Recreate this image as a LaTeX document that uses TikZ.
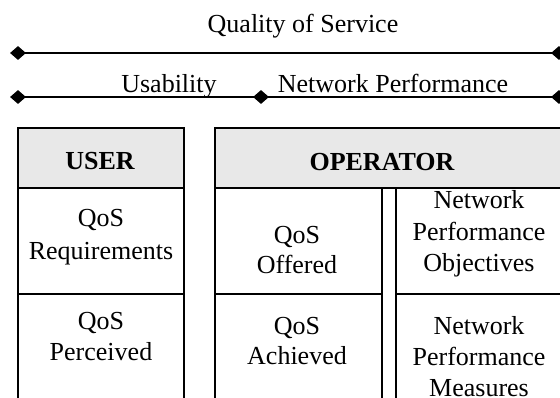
\documentclass[tikz,border=0pt]{standalone}
\usepackage{fontspec}
\setmainfont{Liberation Serif}
\usetikzlibrary{shapes.geometric}
\definecolor{hdr}{HTML}{E8E8E8}
\begin{document}
\begin{tikzpicture}[x=1pt,y=-1pt,
  txt/.style={font=\fontsize{26}{30}\selectfont, inner sep=0pt, anchor=base},
  boldtxt/.style={txt, font=\fontsize{26}{30}\selectfont\bfseries},
  dia/.style={diamond, fill=black, draw=none, minimum width=16pt, minimum height=14pt, inner sep=0pt},
  conn/.style={line width=1.5pt},
  frame/.style={line width=1.8pt}]
\useasboundingbox (0,0) rectangle (560,397);
\clip (0,0) rectangle (560,397);

% header strip
\node[txt] (title) at (303,32) {Quality of Service};
\node[dia] (d1a) at (18,53) {};
\node[dia] (d1b) at (559,53) {};
\draw[conn] (d1a.center) -- (d1b.center);

\node[txt] (usab) at (169,92) {Usability};
\node[txt] (netp) at (393,92) {Network Performance};
\node[dia] (d2a) at (18,97) {};
\node[dia] (d2b) at (261,97) {};
\node[dia] (d2c) at (559,97) {};
\draw[conn] (d2a.center) -- (d2b.center) -- (d2c.center);

% USER box
\fill[hdr] (18,128) rectangle (184,188);
\draw[frame] (18,128) rectangle (184,430);
\draw[frame] (18,188) -- (184,188);
\draw[frame] (18,294) -- (184,294);

% OPERATOR box
\fill[hdr] (215,128) rectangle (590,188);
\draw[frame] (215,128) rectangle (590,430);
\draw[frame] (215,188) -- (590,188);
\draw[frame] (382,188) -- (382,430);
\draw[frame] (396,188) -- (396,430);
\draw[frame] (215,294) -- (382,294);
\draw[frame] (396,294) -- (590,294);

% texts
\node[boldtxt] (user) at (100,169) {USER};
\node[boldtxt] (oper) at (382,170) {OPERATOR};

\node[txt] (u1a) at (101,226) {QoS};
\node[txt] (u1b) at (101,259) {Requirements};
\node[txt] (u2a) at (101,329) {QoS};
\node[txt] (u2b) at (101,360) {Perceived};

\node[txt] (o1a) at (297,243) {QoS};
\node[txt] (o1b) at (297,273) {Offered};
\node[txt] (o2a) at (297,334) {QoS};
\node[txt] (o2b) at (297,364) {Achieved};

\node[txt] (n1a) at (479,208) {Network};
\node[txt] (n1b) at (479,240) {Performance};
\node[txt] (n1c) at (479,271) {Objectives};
\node[txt] (n2a) at (479,334) {Network};
\node[txt] (n2b) at (479,365) {Performance};
\node[txt] (n2c) at (479,396) {Measures};
\end{tikzpicture}
\end{document}
